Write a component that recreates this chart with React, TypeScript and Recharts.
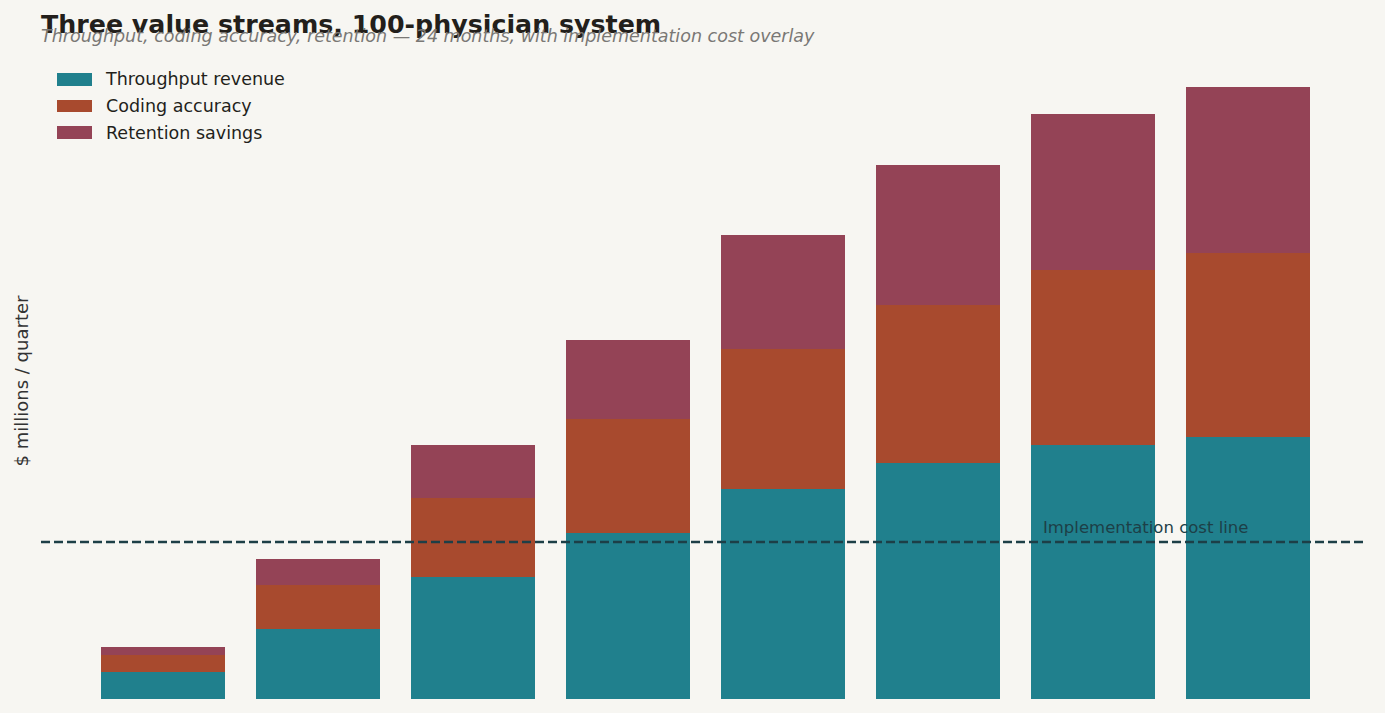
import React from "react";
import { BarChart, Bar, XAxis, YAxis, ReferenceLine, ReferenceDot, Legend } from "recharts";

// Quarterly value by stream, $ millions, over 24 months
const quarters = ["Q1", "Q2", "Q3", "Q4", "Q5", "Q6", "Q7", "Q8"];
const throughputRevenue = [0.51, 1.34, 2.34, 3.18, 4.01, 4.51, 4.85, 5.0];
const codingAccuracy = [0.33, 0.84, 1.5, 2.18, 2.68, 3.02, 3.34, 3.52];
const retentionSavings = [0.16, 0.49, 1.01, 1.51, 2.18, 2.68, 3.0, 3.17];
const implementationCost = 3.0;
const yMax = 12.27;

const seriesNames = ["Throughput revenue", "Coding accuracy", "Retention savings"];

const COLORS = {
  throughput: "#20808d",
  coding: "#a84a2e",
  retention: "#944356",
  costLine: "#1d3f47",
  bg: "#f7f6f2",
  ink: "#231f1b",
  muted: "#7a7875",
};

const data = quarters.map((q, i) => ({
  quarter: q,
  throughput: throughputRevenue[i],
  coding: codingAccuracy[i],
  retention: retentionSavings[i],
}));

const FONT = "'DejaVu Sans', sans-serif";
const MARGIN = { top: 57, right: 19, bottom: 14, left: 41 };
const X_PAD = { left: 44, right: 40 };

const LegendBlock = (props: any) => {
  const items = [...(props.payload || [])].sort(
    (a: any, b: any) => seriesNames.indexOf(a.value) - seriesNames.indexOf(b.value)
  );
  return (
    <div style={{ fontFamily: FONT }}>
      {items.map((it: any) => (
        <div key={it.value} style={{ display: "flex", alignItems: "center", height: 26.7 }}>
          <span style={{ display: "inline-block", width: 35, height: 12.5, background: it.color, marginRight: 14 }} />
          <span style={{ fontSize: 17.5, color: COLORS.ink, lineHeight: "20px" }}>{it.value}</span>
        </div>
      ))}
    </div>
  );
};

const CostLabel = (props: any) => {
  const vb = props.viewBox || {};
  const cx = (vb.x ?? 0) + (vb.width ?? 0) / 2;
  const cy = (vb.y ?? 0) + (vb.height ?? 0) / 2;
  return (
    <text x={cx} y={cy - 9} textAnchor="end" fontFamily={FONT} fontSize={16.5} fill={COLORS.costLine}>
      Implementation cost line
    </text>
  );
};

export default function App() {
  return (
    <div style={{ position: "absolute", left: 0, top: 0, width: 1385, height: 713, background: COLORS.bg }}>
      <svg width={1385} height={713} style={{ position: "absolute", left: 0, top: 0 }}>
        <text x={41} y={33} fontFamily={FONT} fontWeight="bold" fontSize={25.3} fill={COLORS.ink}>
          Three value streams, 100-physician system
        </text>
        <text x={41} y={42} fontFamily={FONT} fontStyle="italic" fontSize={17.5} fill={COLORS.muted}>
          Throughput, coding accuracy, retention — 24 months, with implementation cost overlay
        </text>
        <text
          transform="translate(28,381) rotate(-90)"
          textAnchor="middle"
          fontFamily={FONT}
          fontSize={18}
          fill="#333"
        >
          $ millions / quarter
        </text>
      </svg>
      {/* stacked value bars */}
      <div style={{ position: "absolute", left: 0, top: 0 }}>
        <BarChart width={1385} height={713} data={data} margin={MARGIN} barCategoryGap="10%">
          <XAxis dataKey="quarter" hide padding={X_PAD} />
          <YAxis hide domain={[0, yMax]} />
          <Legend
            layout="vertical"
            align="center"
            verticalAlign="middle"
            content={<LegendBlock />}
            wrapperStyle={{ left: 57, top: 66, width: 300 }}
          />
          <Bar dataKey="throughput" name={seriesNames[0]} stackId="v" fill={COLORS.throughput} shapeRendering="crispEdges" isAnimationActive={false} />
          <Bar dataKey="coding" name={seriesNames[1]} stackId="v" fill={COLORS.coding} shapeRendering="crispEdges" isAnimationActive={false} />
          <Bar dataKey="retention" name={seriesNames[2]} stackId="v" fill={COLORS.retention} shapeRendering="crispEdges" isAnimationActive={false} />
        </BarChart>
      </div>
      {/* cost overlay, drawn above the bars on the same scales */}
      <div style={{ position: "absolute", left: 0, top: 0, pointerEvents: "none" }}>
        <BarChart width={1385} height={713} data={data} margin={MARGIN} barCategoryGap="10%">
          <XAxis dataKey="quarter" hide padding={X_PAD} />
          <YAxis hide domain={[0, yMax]} />
          <Bar dataKey="throughput" stackId="v" fill="none" fillOpacity={0} isAnimationActive={false} />
          <ReferenceLine
            y={implementationCost}
            stroke={COLORS.costLine}
            strokeWidth={2.5}
            strokeDasharray="9 4"
          />
          <ReferenceDot
            x={quarters[quarters.length - 1]}
            y={implementationCost}
            r={1}
            fill="none"
            stroke="none"
            label={<CostLabel />}
          />
        </BarChart>
      </div>
    </div>
  );
}
